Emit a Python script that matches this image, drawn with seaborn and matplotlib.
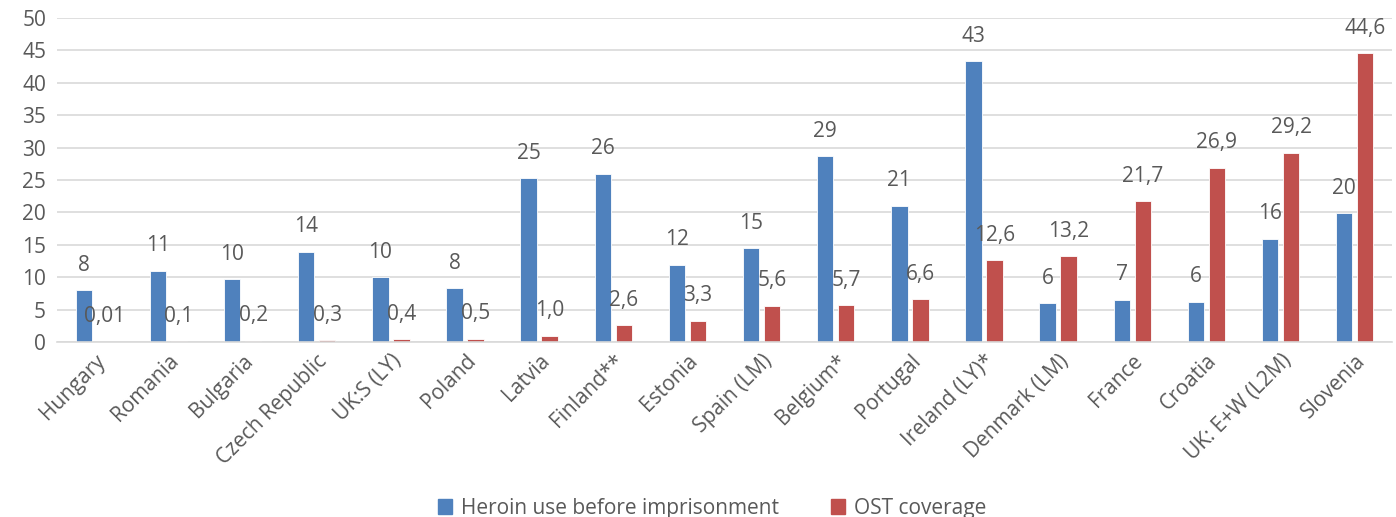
import pandas as pd
import numpy as np
import matplotlib
matplotlib.use('Agg')
import matplotlib.pyplot as plt
import seaborn as sns

countries = ['Hungary', 'Romania', 'Bulgaria', 'Czech Republic', 'UK:S (LY)', 'Poland',
             'Latvia', 'Finland**', 'Estonia', 'Spain (LM)', 'Belgium*', 'Portugal',
             'Ireland (LY)*', 'Denmark (LM)', 'France', 'Croatia', 'UK: E+W (L2M)', 'Slovenia']
heroin = [8.0, 11.0, 9.7, 13.9, 10.0, 8.3, 25.3, 26.0, 11.9, 14.5, 28.7, 21.0,
          43.3, 6.0, 6.5, 6.2, 15.9, 19.9]
heroin_labels = ['8', '11', '10', '14', '10', '8', '25', '26', '12', '15', '29', '21',
                 '43', '6', '7', '6', '16', '20']
ost = [0.01, 0.1, 0.2, 0.3, 0.4, 0.5, 1.0, 2.6, 3.3, 5.6, 5.7, 6.6,
       12.6, 13.2, 21.7, 26.9, 29.2, 44.6]
ost_labels = ['0,01', '0,1', '0,2', '0,3', '0,4', '0,5', '1,0', '2,6', '3,3', '5,6', '5,7', '6,6',
              '12,6', '13,2', '21,7', '26,9', '29,2', '44,6']
series = ['Heroin use before imprisonment', 'OST coverage']
colors = ['#4F81BD', '#C0504D']

df = pd.DataFrame({
    'country': countries * 2,
    'value': heroin + ost,
    'series': [series[0]] * len(countries) + [series[1]] * len(countries),
})

sns.set_style('white')
plt.rcParams['font.family'] = ['Open Sans', 'DejaVu Sans']
txt = '#595959'
fs = 15

fig, ax = plt.subplots(figsize=(13.96, 5.17), dpi=100)
fig.subplots_adjust(left=0.041, right=0.997, top=0.965, bottom=0.3385)

sns.barplot(data=df, x='country', y='value', hue='series', palette=colors, saturation=1,
            width=0.566, gap=0.215, edgecolor='white', linewidth=0.6, ax=ax)

for cont, labels in zip(ax.containers, [heroin_labels, ost_labels]):
    for bar, lab in zip(cont, labels):
        ax.annotate(lab, (bar.get_x() + bar.get_width() / 2, bar.get_height()),
                    xytext=(0, 18), textcoords='offset points',
                    ha='center', va='center', fontsize=fs, color=txt)

ax.set_ylim(0, 50)
ax.set_yticks(range(0, 51, 5))
ax.yaxis.grid(True, color='#D9D9D9', linewidth=1.2)
ax.set_axisbelow(True)
for s in ['top', 'right', 'left']:
    ax.spines[s].set_visible(False)
ax.spines['bottom'].set_color('#D9D9D9')
ax.spines['bottom'].set_linewidth(1.2)
ax.set_xlabel('')
ax.set_ylabel('')
ax.tick_params(axis='both', length=0, labelsize=fs, colors=txt)
ax.tick_params(axis='x', pad=6)
ax.tick_params(axis='y', pad=8)
plt.setp(ax.get_xticklabels(), rotation=45, ha='right', rotation_mode='anchor')

ax.get_legend().remove()
handles = [plt.Rectangle((0, 0), 1, 1, color=c) for c in colors]
fig.legend(handles, series, loc='lower center', bbox_to_anchor=(0.51, -0.04), ncol=2,
           frameon=False, fontsize=fs, labelcolor=txt, handlelength=0.7, handleheight=0.7,
           handletextpad=0.4, columnspacing=2.5)

fig.savefig('out.png', dpi=100)
